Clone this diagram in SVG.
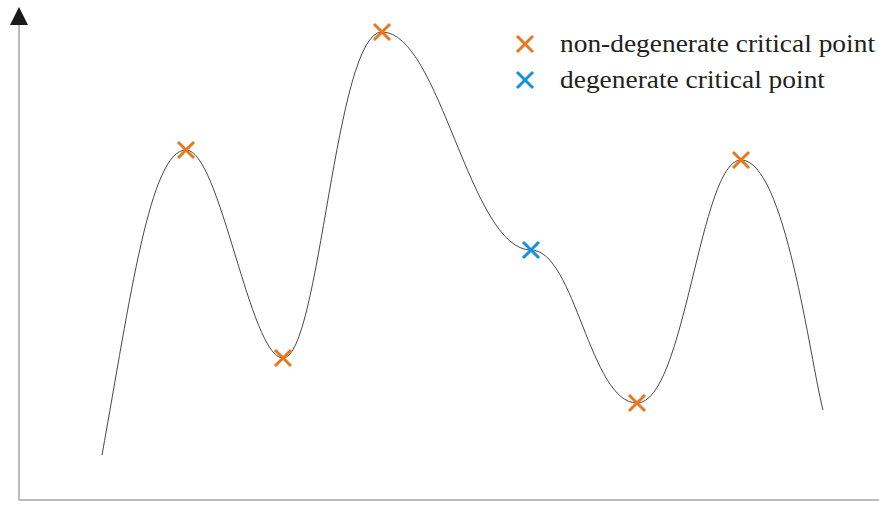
<svg xmlns="http://www.w3.org/2000/svg" width="879" height="509" viewBox="0 0 879 509">
<style>
.axis{stroke:#a6a6a6;stroke-width:1.5;fill:none}
.curve{stroke:#333;stroke-width:0.9;fill:none}
.xo{stroke:#e8781e;stroke-width:3;fill:none}
.xb{stroke:#1592dc;stroke-width:3;fill:none}
.lbl{font-family:"Liberation Serif","Times New Roman","DejaVu Serif",serif;font-size:25px;fill:#231f20}
</style>
<defs>
<path id="x" d="M-8,-8L8,8M8,-8L-8,8"/>
</defs>
<g id="axes">
<path class="axis" d="M19,24V500H879"/>
<polygon points="19,7 10,25 28,25" fill="#1a1a1a"/>
</g>
<g id="connectors">
<path class="curve" d="M102,455 C130,300 150,150 186,150 C220,150 250,358 283,358 C320,358 335,32 382,32 C440,32 470,250 531,250 C575,250 590,403 637,403 C685,403 700,160 741,160 C785,160 810,360 823,410"/>
</g>
<g id="points">
<use href="#x" class="xo" x="186" y="150"/>
<use href="#x" class="xo" x="283" y="358"/>
<use href="#x" class="xo" x="382" y="32"/>
<use href="#x" class="xb" x="531" y="250"/>
<use href="#x" class="xo" x="637" y="403"/>
<use href="#x" class="xo" x="741" y="160"/>
</g>
<g id="legend">
<use href="#x" class="xo" x="525" y="44"/>
<text class="lbl" x="560" y="52" textLength="315" lengthAdjust="spacingAndGlyphs">non-degenerate critical point</text>
<use href="#x" class="xb" x="525" y="80"/>
<text class="lbl" x="560" y="88" textLength="265" lengthAdjust="spacingAndGlyphs">degenerate critical point</text>
</g>
</svg>
